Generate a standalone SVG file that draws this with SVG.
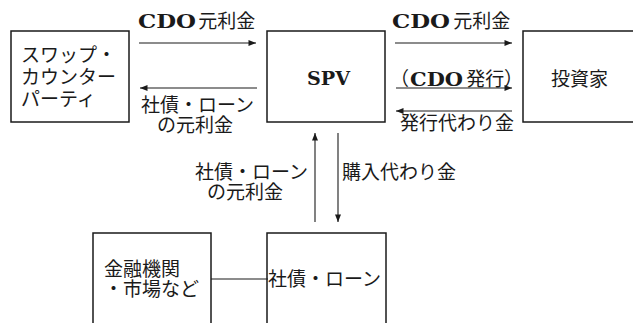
<svg xmlns="http://www.w3.org/2000/svg" width="633" height="323" viewBox="0 0 633 323">
<defs>
<style>
.box{fill:#fff;stroke:#1a1a1a;stroke-width:1.5}
.ln{stroke:#1a1a1a;stroke-width:1.1;fill:none}
.jp{font-family:"Noto Sans CJK JP","Noto Sans",sans-serif;font-size:19px;fill:#1a1a1a}
.lat{font-family:"DejaVu Serif","Liberation Serif",serif;font-weight:bold;font-size:18px}
</style>
<marker id="ah" viewBox="0 0 10 8" refX="10" refY="4" markerWidth="8" markerHeight="6" orient="auto" markerUnits="userSpaceOnUse">
<path d="M0,0 L10,4 L0,8 Z" fill="#1a1a1a"/>
</marker>
</defs>
<rect width="633" height="323" fill="#fff"/>
<g id="swap">
<rect class="box" x="11" y="31" width="118" height="91"/>
<text class="jp" x="21" y="62">スワップ・</text>
<text class="jp" x="21" y="84">カウンター</text>
<text class="jp" x="21" y="106">パーティ</text>
</g>
<g id="spv">
<rect class="box" x="267" y="31" width="118" height="91"/>
<text class="jp lat" x="307" y="85" textLength="43" lengthAdjust="spacingAndGlyphs">SPV</text>
</g>
<g id="investor">
<rect class="box" x="523" y="31" width="130" height="91"/>
<text class="jp" x="551" y="86">投資家</text>
</g>
<g id="finance">
<rect class="box" x="93" y="233" width="118" height="100"/>
<text class="jp" x="104" y="276">金融機関</text>
<text class="jp" x="104" y="296">・市場など</text>
</g>
<g id="bonds">
<rect class="box" x="267" y="233" width="119" height="100"/>
<text class="jp" x="268" y="286">社債・ローン</text>
</g>
<g id="connectors">
<line class="ln" x1="139" y1="43" x2="256" y2="43" marker-end="url(#ah)"/>
<line class="ln" x1="257" y1="88" x2="140" y2="88" marker-end="url(#ah)"/>
<line class="ln" x1="395" y1="43" x2="512" y2="43" marker-end="url(#ah)"/>
<line class="ln" x1="396" y1="88" x2="512" y2="88" marker-end="url(#ah)"/>
<line class="ln" x1="512" y1="111" x2="396" y2="111" marker-end="url(#ah)"/>
<line class="ln" x1="315" y1="222" x2="315" y2="133" marker-end="url(#ah)"/>
<line class="ln" x1="338" y1="133" x2="338" y2="222" marker-end="url(#ah)"/>
<line class="ln" x1="211" y1="279" x2="268" y2="279"/>
</g>
<g id="labels">
<text class="jp" y="28"><tspan class="lat" x="138" textLength="58" lengthAdjust="spacingAndGlyphs">CDO</tspan><tspan x="194"> 元利金</tspan></text>
<text class="jp" x="141" y="112">社債・ローン</text>
<text class="jp" x="157" y="132">の元利金</text>
<text class="jp" y="28"><tspan class="lat" x="392" textLength="58" lengthAdjust="spacingAndGlyphs">CDO</tspan><tspan x="449"> 元利金</tspan></text>
<text class="jp" y="86"><tspan x="390">（</tspan><tspan class="lat" x="410" textLength="53" lengthAdjust="spacingAndGlyphs">CDO</tspan><tspan x="462"> 発行</tspan><tspan x="504">）</tspan></text>
<text class="jp" x="400" y="130">発行代わり金</text>
<text class="jp" x="195" y="179">社債・ローン</text>
<text class="jp" x="207" y="199">の元利金</text>
<text class="jp" x="342" y="179">購入代わり金</text>
</g>
</svg>
